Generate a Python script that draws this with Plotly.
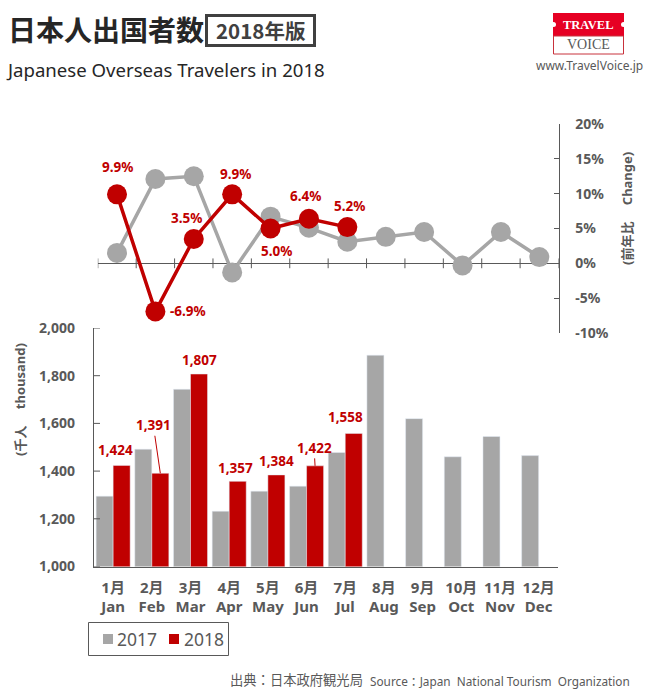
import plotly.graph_objects as go

W = 655
H = 700

month_labels = ["1月<br>Jan", "2月<br>Feb", "3月<br>Mar", "4月<br>Apr", "5月<br>May", "6月<br>Jun",
                "7月<br>Jul", "8月<br>Aug", "9月<br>Sep", "10月<br>Oct", "11月<br>Nov", "12月<br>Dec"]
months_2018 = month_labels[:7]

travelers_2017 = [1295, 1492, 1743, 1232, 1316, 1337, 1478, 1886, 1620, 1460, 1545, 1465]
travelers_2018 = [1424, 1391, 1807, 1357, 1384, 1422, 1558]

change_2017 = [1.5, 12.1, 12.5, -1.3, 6.7, 5.1, 3.1, 3.8, 4.5, -0.3, 4.5, 0.9]
change_2018 = [9.9, -6.9, 3.5, 9.9, 5.0, 6.4, 5.2]

count_ticks = [1000, 1200, 1400, 1600, 1800, 2000]
count_tick_labels = ["1,000", "1,200", "1,400", "1,600", "1,800", "2,000"]
pct_ticks = [-10, -5, 0, 5, 10, 15, 20]
pct_tick_labels = ["-10%", "-5%", "0%", "5%", "10%", "15%", "20%"]
month_edges = [-0.5, 0.5, 1.5, 2.5, 3.5, 4.5, 5.5, 6.5, 7.5, 8.5, 9.5, 10.5, 11.5]

RED = "#C00000"
GRAY = "#A6A6A6"
DARK = "#595959"
FONT = "Noto Sans, Noto Sans CJK JP, sans-serif"
JP_FONT = "Noto Sans CJK JP, sans-serif"
SERIF = "Liberation Serif, serif"


# pixel position in the picture -> paper coordinates
def px(x):
    return x / W


def py(y):
    return 1 - y / H


fig = go.Figure()

fig.add_trace(go.Bar(x=month_labels, y=travelers_2017, name="2017", marker_color=GRAY, xaxis="x", yaxis="y"))
fig.add_trace(go.Bar(x=months_2018, y=travelers_2018, name="2018", marker_color=RED, xaxis="x", yaxis="y"))

# tick marks crossing the zero line of the upper panel
fig.add_trace(go.Scatter(x=month_edges, y=[0] * len(month_edges), mode="markers", xaxis="x2", yaxis="y2",
                         marker=dict(symbol="line-ns", size=7, line=dict(color=DARK, width=1)),
                         showlegend=False, hoverinfo="skip"))
fig.add_trace(go.Scatter(x=list(range(12)), y=change_2017, mode="lines+markers", xaxis="x2", yaxis="y2",
                         line=dict(color=GRAY, width=3.5), marker=dict(color=GRAY, size=20),
                         showlegend=False, cliponaxis=False))
fig.add_trace(go.Scatter(x=list(range(7)), y=change_2018, mode="lines+markers", xaxis="x2", yaxis="y2",
                         line=dict(color=RED, width=3.5), marker=dict(color=RED, size=20),
                         showlegend=False, cliponaxis=False))

annotations = []

# value labels on the 2018 bars: offset from the bar top, in pixels
bar_label_dx = [-6, 0, 0, -2, 0, 0, -8]
bar_label_dy = [15, 0, 14, 13, 14, 0, 16]
for i, v in enumerate(travelers_2018):
    if bar_label_dy[i] == 0:
        continue
    annotations.append(dict(x=month_labels[i], y=v, xref="x", yref="y", text=f"{v:,}",
                            showarrow=False, xshift=8.5 + bar_label_dx[i], yshift=bar_label_dy[i],
                            font=dict(family=FONT, size=13.5, color=RED, weight="bold")))

# Feb and Jun labels sit away from their bars on a thin leader line
annotations.append(dict(x=month_labels[1], y=travelers_2018[1], xref="x", yref="y", text=f"{travelers_2018[1]:,}",
                        xshift=8.5, showarrow=True, arrowhead=0, arrowcolor=RED, arrowwidth=1, ax=-7, ay=-48,
                        font=dict(family=FONT, size=13.5, color=RED, weight="bold")))
annotations.append(dict(x=month_labels[5], y=travelers_2018[5], xref="x", yref="y", text=f"{travelers_2018[5]:,}",
                        xshift=8.5, showarrow=True, arrowhead=0, arrowcolor=RED, arrowwidth=1, ax=-1, ay=-18,
                        font=dict(family=FONT, size=13.5, color=RED, weight="bold")))

# percent labels on the 2018 line
line_label_dx = [0, 33, -7, 3, 6, -3, 2]
line_label_dy = [27, 0, 21, 20, -22, 23, 21]
for i, v in enumerate(change_2018):
    annotations.append(dict(x=i, y=v, xref="x2", yref="y2", text=f"{v:.1f}%", showarrow=False,
                            xshift=line_label_dx[i], yshift=line_label_dy[i],
                            font=dict(family=FONT, size=13.5, color=RED, weight="bold")))


def note(x, y, text, size, color=DARK, family=FONT, bold=False, anchor="left", **kw):
    annotations.append(dict(x=px(x), y=py(y), xref="paper", yref="paper", text=text, showarrow=False,
                            xanchor=anchor, yanchor="middle",
                            font=dict(family=family, size=size, color=color, weight="bold" if bold else "normal"),
                            **kw))


note(6, 29, "日本人出国者数", 28, color="#262626", family=JP_FONT, bold=True)
note(260.5, 30, "2018年版", 20.5, color="#404040", family=JP_FONT, bold=True, anchor="center")
note(4, 70, "Japanese Overseas Travelers in 2018", 18.6, color="#262626")
note(588, 25, "TRAVEL", 12.5, color="white", family=SERIF, bold=True, anchor="center")
note(588, 45, "VOICE", 14, color=DARK, family=SERIF, anchor="center")
note(589, 65, "www.TravelVoice.jp", 12, anchor="center")
note(20, 400, "(千人　 thousand)", 13, bold=True, anchor="center", textangle=-90)
note(627, 209, "(前年比　 Change)", 13, bold=True, anchor="center", textangle=-90)
note(365, 680, "出典：日本政府観光局", 13.3, anchor="right")
note(632, 681, "Source：Japan  National Tourism  Organization", 11.8, anchor="right")

# legend, narrower than the one plotly lays out
note(115, 639, "2017", 17.5)
note(182, 639, "2018", 17.5)


def box(x0, x1, y0, y1, fill="rgba(0,0,0,0)", line=None):
    return dict(type="rect", xref="paper", yref="paper", x0=px(x0), x1=px(x1), y0=py(y1), y1=py(y0),
                fillcolor=fill, line=line or dict(width=0))


shapes = [
    box(206.5, 314.5, 15.5, 45.5, line=dict(color="#404040", width=3)),
    # logo: red ticket above a white one
    box(553, 624, 13, 36, fill="#E60023"),
    box(553.5, 623.5, 36, 54, fill="white", line=dict(color="#C8323C", width=1)),
    dict(type="circle", xref="paper", yref="paper", x0=px(551), x1=px(556), y0=py(27), y1=py(22),
         fillcolor="white", line=dict(width=0)),
    dict(type="circle", xref="paper", yref="paper", x0=px(621), x1=px(626), y0=py(27), y1=py(22),
         fillcolor="white", line=dict(width=0)),
    # legend frame and swatches
    box(88.5, 228.5, 622.5, 655.5, line=dict(color=DARK, width=1)),
    box(103, 113, 634, 644, fill=GRAY),
    box(169, 179, 634, 644, fill=RED),
]

# left axis ticks, pointing into the bars
for t in count_ticks:
    shapes.append(dict(type="line", xref="paper", yref="y", x0=px(93.8), x1=px(100), y0=t, y1=t,
                       layer="above", line=dict(color=DARK, width=1)))

fig.update_layout(
    width=W, height=H, margin=dict(l=0, r=0, t=0, b=0, autoexpand=False),
    paper_bgcolor="white", plot_bgcolor="white",
    font=dict(family=FONT, color=DARK),
    barmode="group", bargap=0.12, bargroupgap=0,
    annotations=annotations, shapes=shapes, showlegend=False,
    xaxis=dict(domain=[px(93.8), px(558)], anchor="y", type="category", categoryorder="array",
               categoryarray=month_labels, showline=True, linecolor=DARK, linewidth=1, ticks="",
               tickfont=dict(family=FONT, size=15, color=DARK, weight="bold"), ticklabelstandoff=7,
               showgrid=False),
    yaxis=dict(domain=[py(566.5), py(328)], anchor="x", range=[1000, 2000], tickvals=count_ticks,
               ticktext=count_tick_labels, showline=True, linecolor=DARK, linewidth=1,
               ticks="", showgrid=False, zeroline=False,
               tickfont=dict(family=FONT, size=14, color=DARK, weight="bold"), ticklabelstandoff=15),
    xaxis2=dict(domain=[px(97.8), px(558.5)], anchor="y2", range=[-0.5, 11.5], visible=False),
    yaxis2=dict(domain=[py(333), py(124)], anchor="x2", side="right", range=[-10, 20], tickvals=pct_ticks,
                ticktext=pct_tick_labels, showline=True, linecolor=DARK, linewidth=1,
                ticks="inside", ticklen=5, tickcolor=DARK, showgrid=False,
                zeroline=True, zerolinecolor=DARK, zerolinewidth=1,
                tickfont=dict(family=FONT, size=14, color=DARK, weight="bold"), ticklabelstandoff=13),
)

fig.write_html("out.html", config=dict(displayModeBar=False), post_script="document.body.style.margin='0';")
